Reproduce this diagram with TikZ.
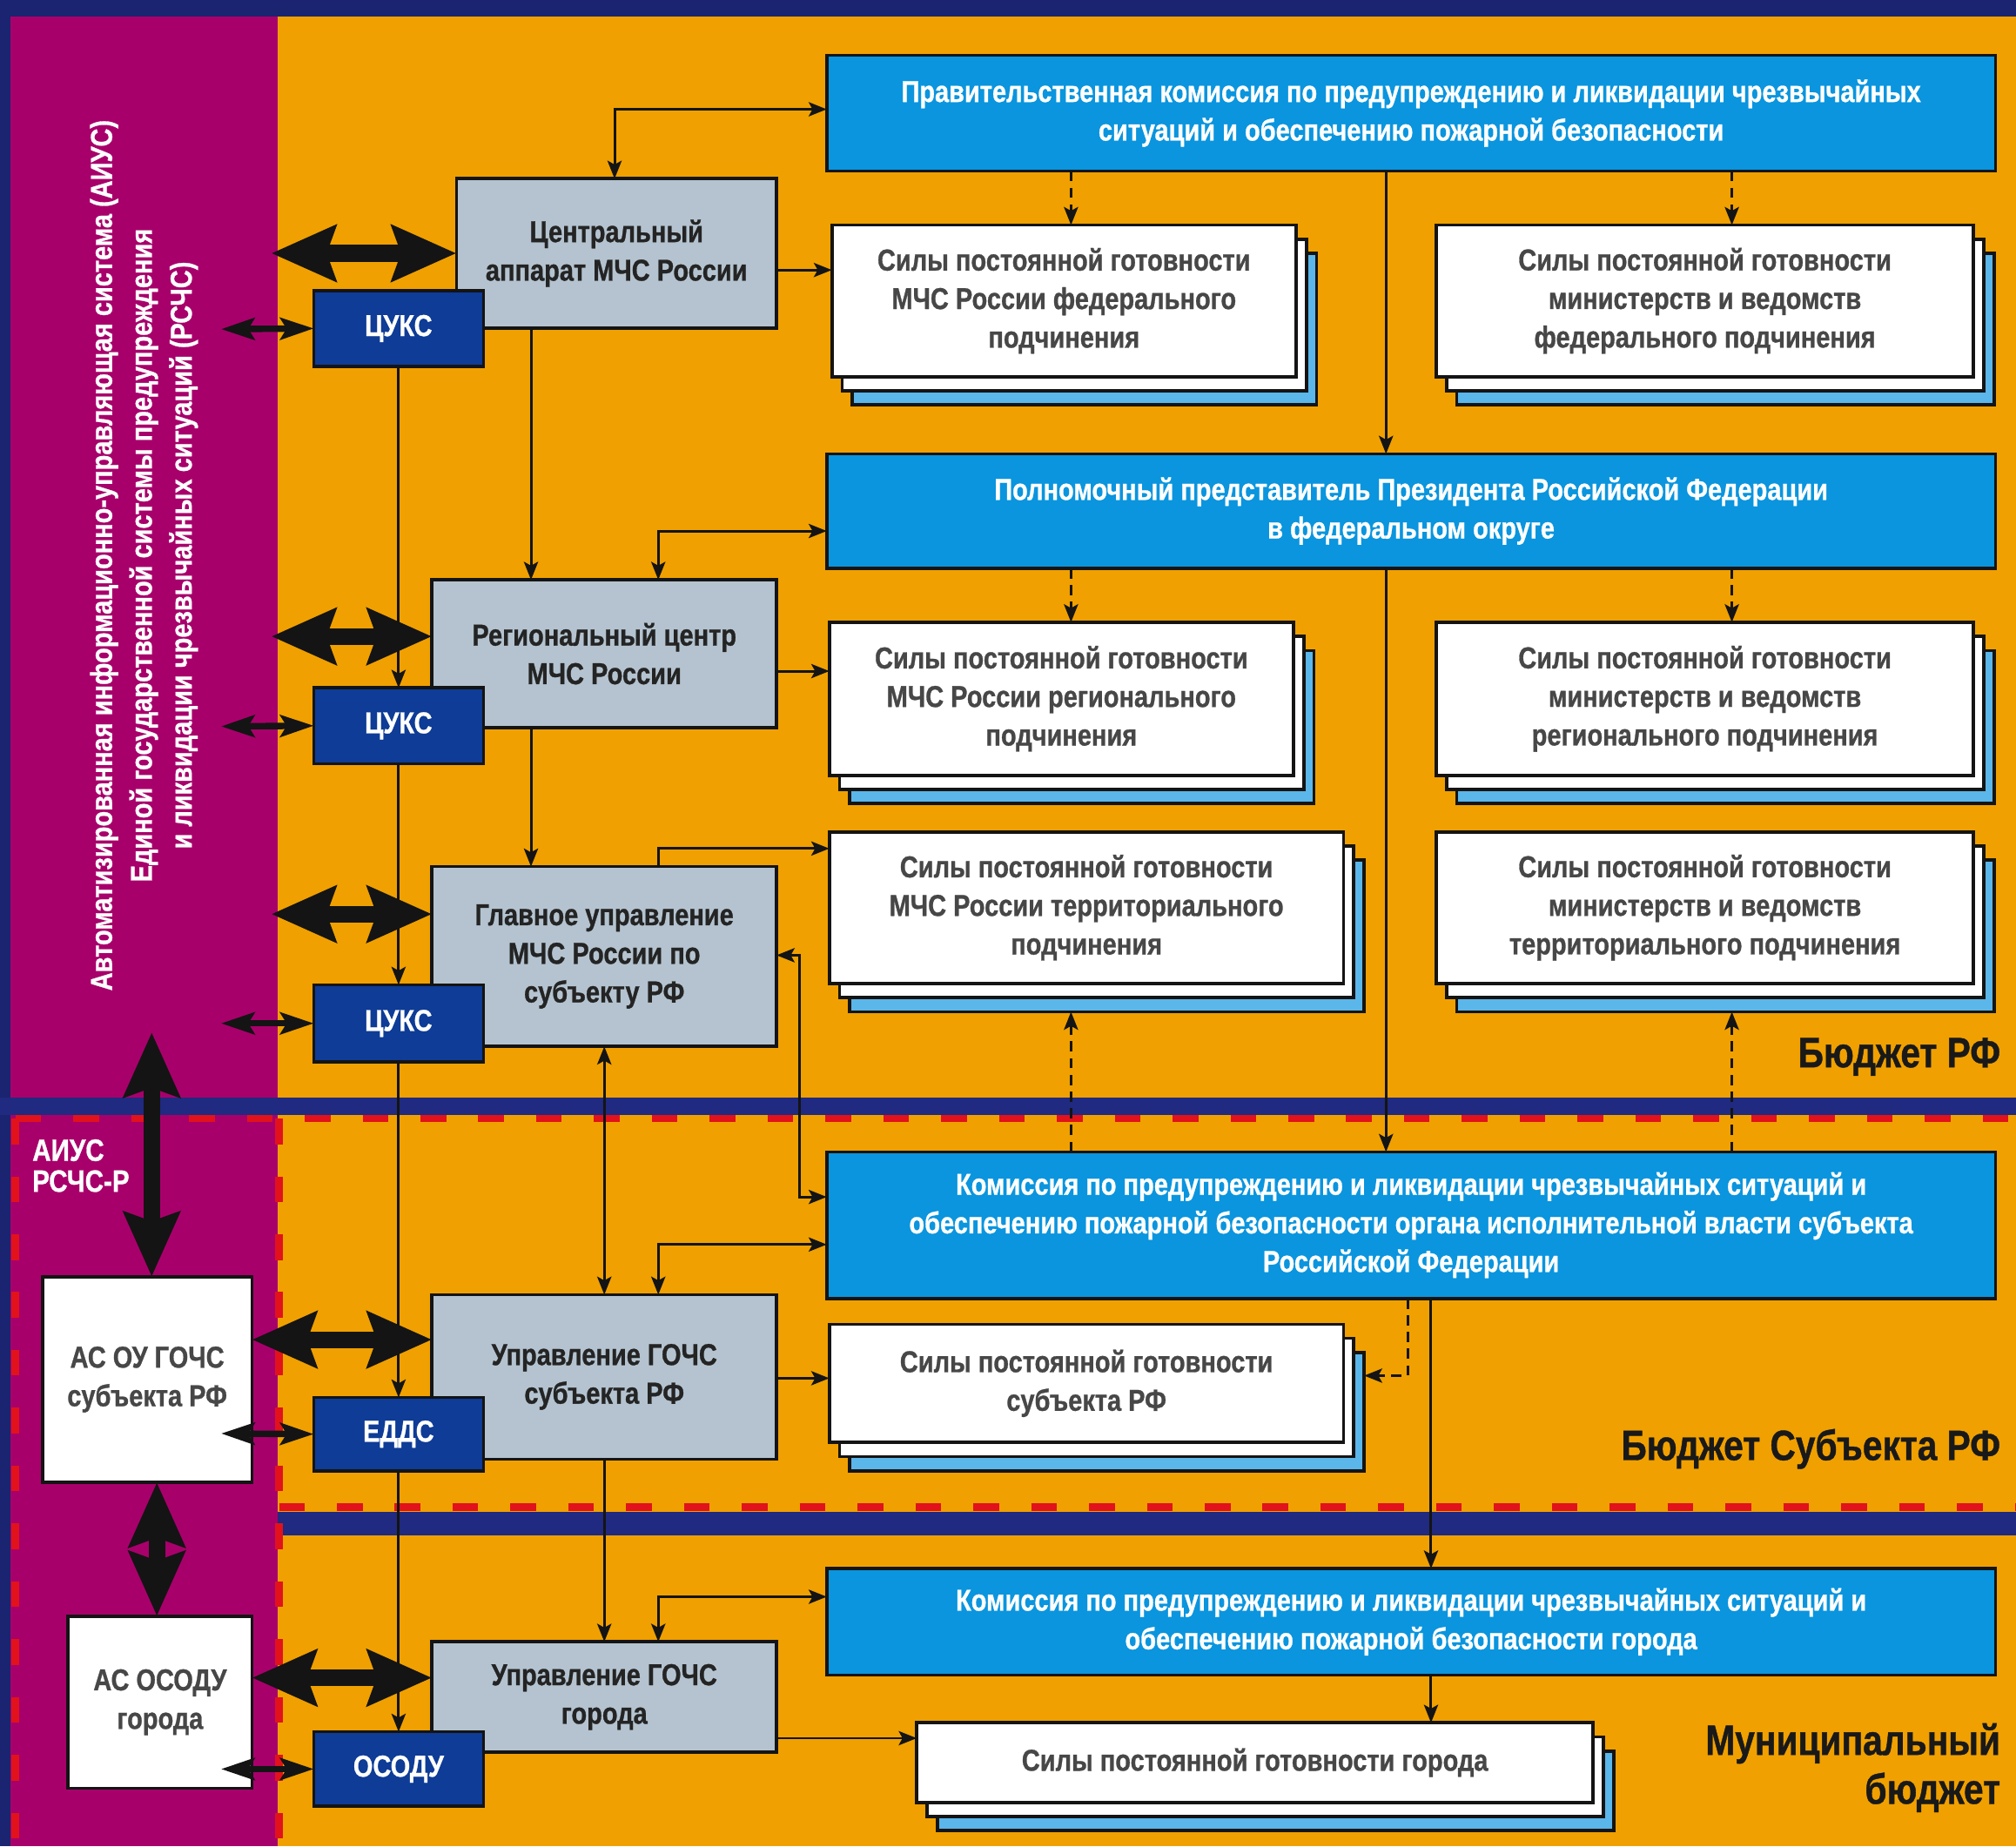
\documentclass[tikz,border=0pt]{standalone}
\usepackage{fontspec}
\setmainfont{Liberation Sans}[FakeStretch=0.835, BoldFeatures={FakeBold=0.8}]
\usetikzlibrary{arrows.meta,shadows}
\definecolor{cOrange}{HTML}{F0A000}
\definecolor{cMag}{HTML}{A8006B}
\definecolor{cNavy}{HTML}{1F2A80}
\definecolor{cTop}{HTML}{1A2470}
\definecolor{cDeep}{HTML}{0E3C96}
\definecolor{cGray}{HTML}{B4C3CF}
\definecolor{cBlue}{HTML}{0A95DE}
\definecolor{cLight}{HTML}{5BB6EA}
\definecolor{cRed}{HTML}{E1121B}
\definecolor{cWText}{HTML}{474747}
\definecolor{cGText}{HTML}{242424}
\definecolor{cLine}{HTML}{141414}
\newcommand\boxfont{\bfseries\fontsize{23.5}{30}\selectfont}
\tikzset{
  box/.style={draw=cLine, line width=2.5pt, anchor=north west, inner sep=0pt, outer sep=0pt, align=center, font=\boxfont},
  bluebox/.style={box, fill=cBlue, text=white},
  graybox/.style={box, fill=cGray, text=cGText},
  navybox/.style={box, fill=cDeep, text=white},
  whitebox/.style={box, fill=white, text=cWText},
  stackbox/.style={whitebox,
    copy shadow={shadow xshift=16pt, shadow yshift=-22pt, fill=cLight, draw=cLine, line width=2.5pt},
    copy shadow={shadow xshift=8pt, shadow yshift=-11pt, fill=white, draw=cLine, line width=2.5pt}},
  wire/.style={draw=cLine, line width=2pt, >={Stealth[length=14pt,width=11pt,inset=3pt]}},
  dwire/.style={wire, dash pattern=on 8pt off 5pt},
  fat/.style={draw=cLine, line width=13pt, >={Stealth[length=50pt,width=43pt,inset=7pt]}},
  mid/.style={draw=cLine, line width=5pt, >={Stealth[length=26pt,width=17pt,inset=5pt]}},
  budget/.style={anchor=east, inner sep=0pt, font=\bfseries\fontsize{33}{38}\selectfont, text=black!90, align=right},
  wlabel/.style={text=white, inner sep=0pt, font=\bfseries\fontsize{23.5}{31}\selectfont, align=center},
  redline/.style={draw=cRed, line width=6pt, dash pattern=on 20pt off 25pt},
}
\begin{document}
\begin{tikzpicture}[x=1pt,y=-1pt]
\useasboundingbox (0,0) rectangle (1568,1436);
% background
\fill[cTop] (0,0) rectangle (1568,1436);
\fill[cOrange] (216,13) rectangle (1568,1436);
\fill[cMag] (8,13) rectangle (216,1436);
\fill[cNavy] (0,854) rectangle (1568,867);
\fill[cNavy] (216,1176) rectangle (1568,1194);
\draw[redline] (12,870) -- (1568,870);
\draw[redline] (12,870) -- (12,1436);
\draw[redline] (217,870) -- (217,1436);
\draw[redline] (217,1172) -- (1568,1172);

% side labels
\node[wlabel, rotate=90] (aius) at (112,432) {Автоматизированная информационно-управляющая система (АИУС)\\Единой государственной системы предупреждения\\и ликвидации чрезвычайных ситуаций (РСЧС)};
\node[wlabel, anchor=north west, align=left, font=\bfseries\fontsize{24}{24}\selectfont] (rsp) at (25,886) {АИУС\\РСЧС-Р};
\node[budget] (b1) at (1556,822) {Бюджет РФ};
\node[budget] (b2) at (1556,1127) {Бюджет Субъекта РФ};
\node[budget] (b3) at (1556,1375) {Муниципальный\\бюджет};

% blue commissions
\node[bluebox, minimum width=909pt, minimum height=90pt] (gov) at (643,43) {Правительственная комиссия по предупреждению и ликвидации чрезвычайных\\ситуаций и обеспечению пожарной безопасности};
\node[bluebox, minimum width=909pt, minimum height=89pt] (poln) at (643,353) {Полномочный представитель Президента Российской Федерации\\в федеральном округе};
\node[bluebox, minimum width=909pt, minimum height=114pt] (kss) at (643,896) {Комиссия по предупреждению и ликвидации чрезвычайных ситуаций и\\обеспечению пожарной безопасности органа исполнительной власти субъекта\\Российской Федерации};
\node[bluebox, minimum width=909pt, minimum height=83pt] (kgor) at (643,1220) {Комиссия по предупреждению и ликвидации чрезвычайных ситуаций и\\обеспечению пожарной безопасности города};

% gray boxes
\node[graybox, minimum width=249pt, minimum height=116pt] (central) at (355,139) {Центральный\\аппарат МЧС России};
\node[graybox, minimum width=268pt, minimum height=115pt] (reg) at (336,451) {Региональный центр\\МЧС России};
\node[graybox, minimum width=268pt, minimum height=140pt] (glav) at (336,674) {Главное управление\\МЧС России по\\субъекту РФ};
\node[graybox, minimum width=268pt, minimum height=128pt] (ugs) at (336,1007) {Управление ГОЧС\\субъекта РФ};
\node[graybox, minimum width=268pt, minimum height=86pt] (ugg) at (336,1277) {Управление ГОЧС\\города};

% navy boxes
\node[navybox, minimum width=132pt, minimum height=59pt] (cuks1) at (244,226) {ЦУКС};
\node[navybox, minimum width=132pt, minimum height=59pt] (cuks2) at (244,535) {ЦУКС};
\node[navybox, minimum width=132pt, minimum height=60pt] (cuks3) at (244,766) {ЦУКС};
\node[navybox, minimum width=132pt, minimum height=57pt] (edds) at (244,1087) {ЕДДС};
\node[navybox, minimum width=132pt, minimum height=58pt] (osodu) at (244,1347) {ОСОДУ};

% white boxes left
\node[whitebox, minimum width=163pt, minimum height=160pt] (asou) at (33,993) {АС ОУ ГОЧС\\субъекта РФ};
\node[whitebox, minimum width=143pt, minimum height=134pt] (asosodu) at (53,1257) {АС ОСОДУ\\города};

% stacked force boxes
\node[stackbox, minimum width=361pt, minimum height=118pt] (sfm) at (647,175) {Силы постоянной готовности\\МЧС России федерального\\подчинения};
\node[stackbox, minimum width=418pt, minimum height=118pt] (sfo) at (1117,175) {Силы постоянной готовности\\министерств и ведомств\\федерального подчинения};
\node[stackbox, minimum width=361pt, minimum height=119pt] (srm) at (645,484) {Силы постоянной готовности\\МЧС России регионального\\подчинения};
\node[stackbox, minimum width=418pt, minimum height=119pt] (sro) at (1117,484) {Силы постоянной готовности\\министерств и ведомств\\регионального подчинения};
\node[stackbox, minimum width=400pt, minimum height=118pt] (stm) at (645,647) {Силы постоянной готовности\\МЧС России территориального\\подчинения};
\node[stackbox, minimum width=418pt, minimum height=118pt] (sto) at (1117,647) {Силы постоянной готовности\\министерств и ведомств\\территориального подчинения};
\node[stackbox, minimum width=400pt, minimum height=92pt] (ssub) at (645,1030) {Силы постоянной готовности\\субъекта РФ};
\node[stackbox, minimum width=526pt, minimum height=62pt] (sgor) at (713,1340) {Силы постоянной готовности города};

% thin connectors
\draw[wire,<->] ([xshift=123pt]central.north west) |- ([yshift=-42pt]gov.north west);
\draw[wire,->] ([yshift=-71pt]central.north east) -- ([yshift=-35pt]sfm.north west);
\draw[dwire,->] ([xshift=190pt]gov.south west) -- ([xshift=186pt]sfm.north west);
\draw[dwire,->] ([xshift=704pt]gov.south west) -- ([xshift=230pt]sfo.north west);
\draw[wire,->] ([xshift=435pt]gov.south west) -- ([xshift=435pt]poln.north west);
\draw[wire,->] ([xshift=58pt]central.south west) -- ([xshift=77pt]reg.north west);
\draw[wire,<->] ([xshift=176pt]reg.north west) |- ([yshift=-60pt]poln.north west);
\draw[wire,->] ([yshift=-71pt]reg.north east) -- ([yshift=-38pt]srm.north west);
\draw[dwire,->] ([xshift=190pt]poln.south west) -- ([xshift=188pt]srm.north west);
\draw[dwire,->] ([xshift=704pt]poln.south west) -- ([xshift=230pt]sro.north west);
\draw[wire,->] ([xshift=435pt]poln.south west) -- ([xshift=435pt]kss.north west);
\draw[wire,->] ([xshift=77pt]reg.south west) -- ([xshift=77pt]glav.north west);
\draw[wire,->] ([xshift=176pt]glav.north west) |- ([yshift=-13pt]stm.north west);
\draw[wire,<->] ([yshift=-69pt]glav.north east) -- ++(18pt,0) |- ([yshift=-35pt]kss.north west);
\draw[dwire,->] ([xshift=190pt]kss.north west) -- ([xshift=188pt,yshift=-22pt]stm.south west);
\draw[dwire,->] ([xshift=704pt]kss.north west) -- ([xshift=230pt,yshift=-22pt]sto.south west);
\draw[wire,<->] ([xshift=176pt]ugs.north west) |- ([yshift=-72pt]kss.north west);
\draw[wire,<->] ([xshift=134pt]glav.south west) -- ([xshift=134pt]ugs.north west);
\draw[wire,->] ([yshift=-65pt]ugs.north east) -- ([yshift=-42pt]ssub.north west);
\draw[dwire,->] ([xshift=452pt]kss.south west) |- ([xshift=16pt,yshift=-40pt]ssub.north east);
\draw[wire,->] ([xshift=470pt]kss.south west) -- ([xshift=470pt]kgor.north west);
\draw[wire,->] ([xshift=134pt]ugs.south west) -- ([xshift=134pt]ugg.north west);
\draw[wire,<->] ([xshift=176pt]ugg.north west) |- ([yshift=-22pt]kgor.north west);
\draw[wire,->] ([xshift=470pt]kgor.south west) -- ([xshift=400pt]sgor.north west);
\draw[wire,->] ([yshift=-75pt]ugg.north east) -- ([yshift=-12pt]sgor.north west);
\draw[wire,->] ([xshift=66pt]cuks1.south west) -- ([xshift=66pt]cuks2.north west);
\draw[wire,->] ([xshift=66pt]cuks2.south west) -- ([xshift=66pt]cuks3.north west);
\draw[wire,->] ([xshift=66pt]cuks3.south west) -- ([xshift=66pt]edds.north west);
\draw[wire,->] ([xshift=66pt]edds.south west) -- ([xshift=66pt]osodu.north west);

% medium double arrows
\coordinate (m1) at (172,256);
\coordinate (m2) at (172,565);
\coordinate (m3) at (172,796);
\coordinate (m4) at (172,1115);
\coordinate (m5) at (172,1376);
\draw[mid,<->] (m1) -- (cuks1.west);
\draw[mid,<->] (m2) -- (cuks2.west);
\draw[mid,<->] (m3) -- (cuks3.west);
\draw[mid,<->] (m4) -- (edds.west);
\draw[mid,<->] (m5) -- (osodu.west);

% fat double arrows
\coordinate (e1) at (211,197);
\coordinate (e2) at (211,495);
\coordinate (e3) at (211,711);
\coordinate (e4) at (118,803);
\draw[fat,<->] (e1) -- ([yshift=-58pt]central.north west);
\draw[fat,<->] (e2) -- ([yshift=-44pt]reg.north west);
\draw[fat,<->] (e3) -- ([yshift=-37pt]glav.north west);
\draw[fat,<->] ([yshift=-49pt]asou.north east) -- ([yshift=-35pt]ugs.north west);
\draw[fat,<->] ([yshift=-48pt]asosodu.north east) -- ([yshift=-28pt]ugg.north west);
\draw[fat,<->] (e4) -- ([xshift=85pt]asou.north west);
\draw[fat,<->] ([xshift=89pt]asou.south west) -- ([xshift=69pt]asosodu.north west);
\end{tikzpicture}
\end{document}
